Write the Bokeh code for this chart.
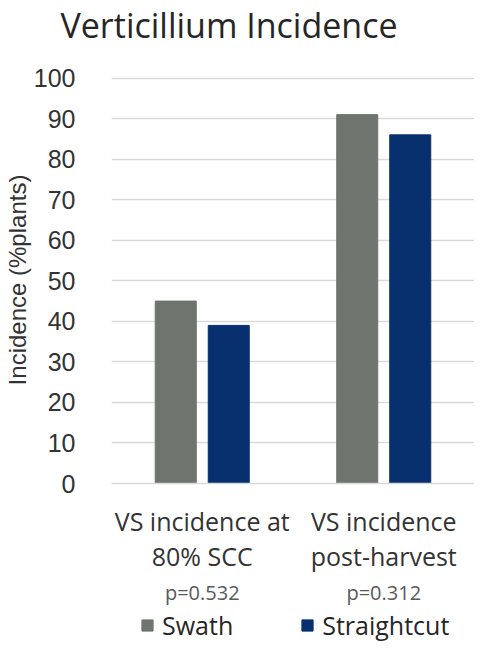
from bokeh.plotting import figure
from bokeh.layouts import column
from bokeh.models import (FactorRange, Range1d, Legend, LegendItem, ColumnDataSource,
                          CategoricalAxis, Label)
from bokeh.transform import dodge
from bokeh.embed import file_html
from bokeh.resources import INLINE

# ---- data ----
categories = ["VS incidence at\n80% SCC", "VS incidence\npost-harvest"]
swath = [45, 91]
straightcut = [39, 86]
p_values = ["p=0.532", "p=0.312"]
y_ticks = [0, 10, 20, 30, 40, 50, 60, 70, 80, 90, 100]
series_names = ["Swath", "Straightcut"]
title_text = "Verticillium Incidence"
y_title = "Incidence (%plants)"

SWATH_COLOR = "#6f746f"
STRAIGHT_COLOR = "#08306f"
W = 474

src = ColumnDataSource(dict(cat=categories, swath=swath, straightcut=straightcut))

# ---------- title strip ----------
t = figure(width=W, height=50, x_range=Range1d(0, 1), y_range=Range1d(0, 1),
           output_backend="svg", toolbar_location=None, title=None,
           x_axis_location=None, y_axis_location=None,
           min_border_left=0, min_border_right=0, min_border_top=0, min_border_bottom=0)
t.frame_align = False
t.grid.visible = False
t.outline_line_color = None
t.add_layout(Label(x=60, y=26, x_units="screen", y_units="screen", text=title_text,
                   text_align="left", text_baseline="alphabetic",
                   text_font="Open Sans", text_font_size="34px", text_color="#262626"))

# ---------- main chart ----------
p = figure(
    width=W, height=558,
    x_range=FactorRange(*categories),
    y_range=Range1d(0, 100.4),
    output_backend="svg", toolbar_location=None, title=None,
    min_border_left=111, min_border_right=0,
    min_border_top=26, min_border_bottom=123,
)
p.extra_x_ranges = {"pval": FactorRange(*p_values)}
p.outline_line_color = None

r1 = p.vbar(x=dodge("cat", -0.146, range=p.x_range), top="swath", width=0.226,
            source=src, fill_color=SWATH_COLOR, line_color=SWATH_COLOR)
r2 = p.vbar(x=dodge("cat", 0.146, range=p.x_range), top="straightcut", width=0.226,
            source=src, fill_color=STRAIGHT_COLOR, line_color=STRAIGHT_COLOR)

p.xgrid.grid_line_color = None
p.ygrid.grid_line_color = "#d9d9d9"
p.ygrid.grid_line_width = 1.5
p.ygrid.ticker = y_ticks

p.yaxis.ticker = y_ticks
p.yaxis.axis_line_color = None
p.yaxis.major_tick_line_color = None
p.yaxis.minor_tick_line_color = None
p.yaxis.major_label_text_font = "Liberation Sans"
p.yaxis.major_label_text_font_size = "25px"
p.yaxis.major_label_text_color = "#333333"
p.yaxis.major_label_standoff = 30
p.yaxis.axis_label = y_title
p.yaxis.axis_label_text_font = "Liberation Sans"
p.yaxis.axis_label_text_font_size = "24px"
p.yaxis.axis_label_text_font_style = "normal"
p.yaxis.axis_label_text_color = "#333333"
p.yaxis.axis_label_standoff = 0

p.xaxis.axis_line_color = "#d9d9d9"
p.xaxis.axis_line_width = 1.5
p.xaxis.major_tick_line_color = None
p.xaxis.minor_tick_line_color = None
p.xaxis.major_label_text_font = "Open Sans"
p.xaxis.major_label_text_font_size = "25px"
p.xaxis.major_label_text_color = "#333333"
p.xaxis.major_label_text_line_height = 1.03
p.xaxis.major_label_standoff = 14

pax = CategoricalAxis(
    x_range_name="pval",
    axis_line_color=None, major_tick_line_color=None, minor_tick_line_color=None,
    major_label_text_font="Open Sans", major_label_text_font_size="20px",
    major_label_text_color="#595959", major_label_standoff=-3,
)
p.add_layout(pax, "below")

# ---------- legend strip ----------
lg = figure(width=W, height=34, x_range=FactorRange(*categories), y_range=Range1d(0, 1),
            output_backend="svg", toolbar_location=None, title=None,
            x_axis_location=None, y_axis_location=None,
            min_border_left=0, min_border_right=0, min_border_top=0, min_border_bottom=0)
lg.frame_align = False
lg.grid.visible = False
lg.outline_line_color = None
l1 = lg.vbar(x="cat", top="swath", width=0.226, source=src,
             fill_color=SWATH_COLOR, line_color=SWATH_COLOR, visible=False)
l2 = lg.vbar(x="cat", top="straightcut", width=0.226, source=src,
             fill_color=STRAIGHT_COLOR, line_color=STRAIGHT_COLOR, visible=False)
legend = Legend(
    items=[LegendItem(label=series_names[0], renderers=[l1]),
           LegendItem(label=series_names[1], renderers=[l2])],
    location=(140, 0), orientation="horizontal",
    glyph_width=14, glyph_height=14, label_standoff=8, spacing=67,
    padding=0, margin=0, border_line_color=None, background_fill_alpha=0,
    inactive_fill_alpha=0,
    label_text_font="Open Sans", label_text_font_size="25px", label_text_color="#262626",
)
lg.add_layout(legend, "center")

layout = column(t, p, lg, spacing=0)
open("out.html", "w").write(file_html(layout, INLINE))
